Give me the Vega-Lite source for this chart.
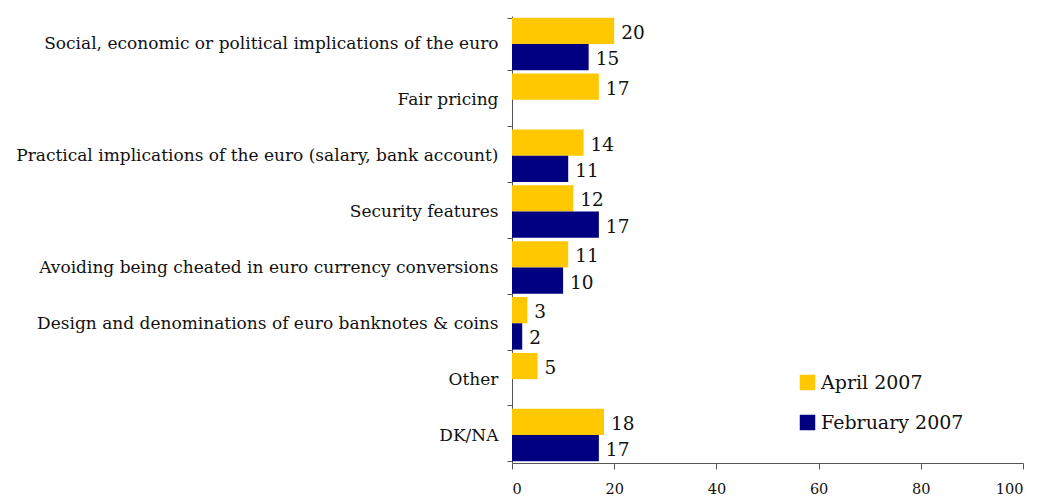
{
  "$schema": "https://vega.github.io/schema/vega-lite/v6.json",
  "autosize": {"type": "none"},
  "padding": {"left": 512, "top": 16, "right": 16, "bottom": 35},
  "width": 511,
  "height": 447,
  "background": "white",
  "config": {"view": {"stroke": null}, "font": "DejaVu Serif"},
  "data": {"values": [
    {"topic": "Social, economic or political implications of the euro", "series": "April 2007", "value": 20},
    {"topic": "Social, economic or political implications of the euro", "series": "February 2007", "value": 15},
    {"topic": "Fair pricing", "series": "April 2007", "value": 17},
    {"topic": "Practical implications of the euro (salary, bank account)", "series": "April 2007", "value": 14},
    {"topic": "Practical implications of the euro (salary, bank account)", "series": "February 2007", "value": 11},
    {"topic": "Security features", "series": "April 2007", "value": 12},
    {"topic": "Security features", "series": "February 2007", "value": 17},
    {"topic": "Avoiding being cheated in euro currency conversions", "series": "April 2007", "value": 11},
    {"topic": "Avoiding being cheated in euro currency conversions", "series": "February 2007", "value": 10},
    {"topic": "Design and denominations of euro banknotes & coins", "series": "April 2007", "value": 3},
    {"topic": "Design and denominations of euro banknotes & coins", "series": "February 2007", "value": 2},
    {"topic": "Other", "series": "April 2007", "value": 5},
    {"topic": "DK/NA", "series": "April 2007", "value": 18},
    {"topic": "DK/NA", "series": "February 2007", "value": 17}
  ]},
  "encoding": {
    "y": {
      "field": "topic", "type": "nominal", "sort": null,
      "scale": {"paddingInner": 0.06, "paddingOuter": 0.03},
      "axis": {"title": null, "tickBand": "extent", "domainColor": "#555", "tickColor": "#555", "tickSize": 5, "labelFontSize": 17, "labelColor": "#111", "labelPadding": 9, "labelLimit": 520}
    },
    "yOffset": {"field": "series", "type": "nominal", "sort": ["April 2007", "February 2007"]},
    "x": {
      "field": "value", "type": "quantitative",
      "scale": {"domain": [0, 100], "nice": false},
      "axis": {"title": null, "values": [0, 20, 40, 60, 80, 100], "grid": false, "domainColor": "#555", "tickColor": "#555", "tickSize": 6, "labelFontSize": 14.5, "labelColor": "#111", "labelPadding": 13}
    }
  },
  "layer": [
    {
      "mark": {"type": "bar"},
      "encoding": {
        "color": {
          "field": "series", "type": "nominal",
          "scale": {"domain": ["April 2007", "February 2007"], "range": ["#FFC800", "#000080"]},
          "legend": {"title": null, "orient": "none", "legendX": 286, "legendY": 357, "symbolType": "square", "symbolSize": 240, "symbolStrokeWidth": 0, "labelFontSize": 19, "labelColor": "#111", "rowPadding": 20, "labelOffset": 4}
        }
      }
    },
    {
      "mark": {"type": "text", "align": "left", "baseline": "middle", "dx": 7, "dy": 2, "fontSize": 18.5, "color": "#111"},
      "encoding": {"text": {"field": "value", "type": "quantitative"}}
    }
  ]
}
